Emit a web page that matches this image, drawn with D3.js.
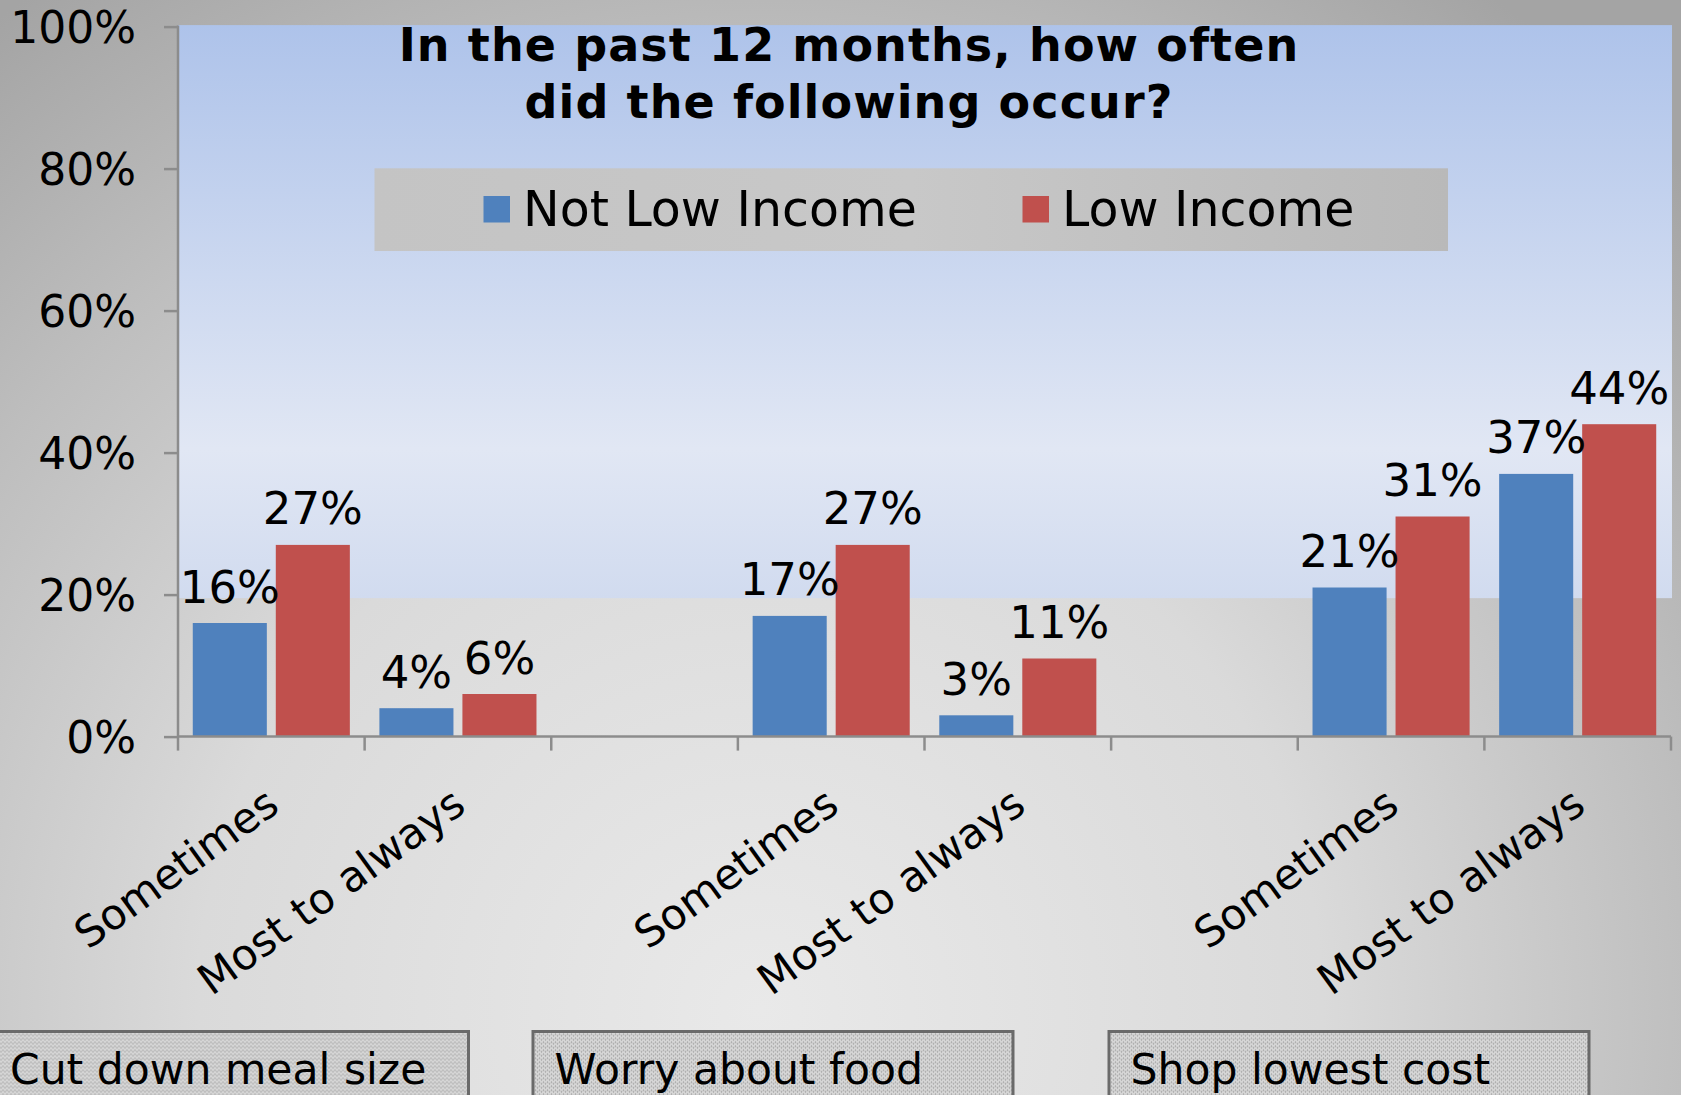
<!DOCTYPE html>
<html>
<head>
<meta charset="utf-8">
<script src="https://cdn.jsdelivr.net/npm/d3@7"></script>
<style>
  html, body { margin: 0; padding: 0; overflow: hidden; }
  svg { display: block; }
  text { font-family: "DejaVu Sans", Verdana, sans-serif; fill: #000; }
</style>
</head>
<body>
<svg id="chart" width="1681" height="1095"></svg>
<script>
// ---- data ----
const categories = ["Sometimes", "Most to always", "", "Sometimes", "Most to always", "", "Sometimes", "Most to always"];
const seriesNames = ["Not Low Income", "Low Income"];
const notLowIncome = [16, 4, null, 17, 3, null, 21, 37];
const lowIncome = [27, 6, null, 27, 11, null, 31, 44];
const groupLabels = ["Cut down meal size", "Worry about food", "Shop lowest cost"];
const yTicks = [0, 20, 40, 60, 80, 100];
const titleLines = ["In the past 12 months, how often", "did the following occur?"];

// ---- layout ----
const W = 1681, H = 1095;
const plot = { left: 178, right: 1671, top: 26.6, bottom: 736.6 };
const colors = { "Not Low Income": "#4f81bd", "Low Income": "#c0504d" };

const svg = d3.select("#chart");
const defs = svg.append("defs");

// page background radial gradient
const bg = defs.append("radialGradient").attr("id", "bgGrad")
  .attr("gradientUnits", "userSpaceOnUse")
  .attr("cx", 760).attr("cy", 1010).attr("r", 1250);
bg.append("stop").attr("offset", "0").attr("stop-color", "#e9e9e9");
bg.append("stop").attr("offset", "0.45").attr("stop-color", "#dadada");
bg.append("stop").attr("offset", "0.75").attr("stop-color", "#bebebe");
bg.append("stop").attr("offset", "1").attr("stop-color", "#a4a4a4");

// plot area blue gradient
const pg = defs.append("linearGradient").attr("id", "plotGrad")
  .attr("x1", 0).attr("y1", 0).attr("x2", 0).attr("y2", 1);
pg.append("stop").attr("offset", "0").attr("stop-color", "#aec3ea");
pg.append("stop").attr("offset", "0.74").attr("stop-color", "#e1e7f4");
pg.append("stop").attr("offset", "1").attr("stop-color", "#d1dbef");

// legend gradient
const lg = defs.append("linearGradient").attr("id", "legGrad")
  .attr("x1", 0).attr("y1", 0).attr("x2", 1).attr("y2", 0);
lg.append("stop").attr("offset", "0").attr("stop-color", "#c4c4c4");
lg.append("stop").attr("offset", "0.5").attr("stop-color", "#c8c8c8");
lg.append("stop").attr("offset", "1").attr("stop-color", "#b9b9b9");

// dithered pattern for group label boxes
const pat = defs.append("pattern").attr("id", "dither")
  .attr("patternUnits", "userSpaceOnUse").attr("width", 4).attr("height", 4);
pat.append("rect").attr("width", 4).attr("height", 4).attr("fill", "#d6d6d6");
pat.append("rect").attr("x", 0).attr("y", 0).attr("width", 1).attr("height", 1).attr("fill", "#9a9a9a");
pat.append("rect").attr("x", 2).attr("y", 2).attr("width", 1).attr("height", 1).attr("fill", "#9a9a9a");
pat.append("rect").attr("x", 0).attr("y", 3).attr("width", 4).attr("height", 1).attr("fill", "#c6c6c6");

svg.append("rect").attr("width", W).attr("height", H).attr("fill", "url(#bgGrad)");

// scales
const x = d3.scaleBand().domain(d3.range(categories.length)).range([plot.left, plot.right]);
const xs = d3.scaleBand().domain(seriesNames).range([0, x.bandwidth()])
  .paddingInner(0.108).paddingOuter(0.178);
const y = d3.scaleLinear().domain([0, 100]).range([plot.bottom, plot.top]);

// plot area upper blue part
svg.append("rect")
  .attr("x", plot.left).attr("y", y(100) - 1.5)
  .attr("width", 1672 - plot.left).attr("height", y(19.5) - y(100) + 1.5)
  .attr("fill", "url(#plotGrad)");

// title
svg.append("g").selectAll("text").data(titleLines).join("text")
  .attr("x", 849).attr("y", (d, i) => 60.7 + i * 57.6)
  .attr("text-anchor", "middle")
  .attr("font-size", 46).attr("font-weight", "bold")
  .attr("letter-spacing", 1.1)
  .text(d => d);

// legend
const leg = svg.append("g");
leg.append("rect").attr("x", 374.5).attr("y", 168.3).attr("width", 1073.5).attr("height", 82.7)
  .attr("fill", "url(#legGrad)");
const legX = [483.5, 1022.5];
seriesNames.forEach((s, i) => {
  leg.append("rect").attr("x", legX[i]).attr("y", 196).attr("width", 26.5).attr("height", 26.5)
    .attr("fill", colors[s]);
  leg.append("text").attr("x", legX[i] + 39.5).attr("y", 226)
    .attr("font-size", 49).text(s);
});

// bars
const series = [
  { name: seriesNames[0], values: notLowIncome },
  { name: seriesNames[1], values: lowIncome }
];
const barData = [];
series.forEach(s => s.values.forEach((v, i) => { if (v != null) barData.push({ s: s.name, i, v }); }));

svg.append("g").selectAll("rect").data(barData).join("rect")
  .attr("x", d => x(d.i) + xs(d.s))
  .attr("y", d => y(d.v))
  .attr("width", xs.bandwidth())
  .attr("height", d => y(0) - y(d.v))
  .attr("fill", d => colors[d.s]);

// data labels
svg.append("g").selectAll("text").data(barData).join("text")
  .attr("x", d => x(d.i) + xs(d.s) + xs.bandwidth() / 2)
  .attr("y", d => y(d.v) - 20.5)
  .attr("text-anchor", "middle")
  .attr("font-size", 45)
  .text(d => d.v + "%");

// y axis
const yAxis = svg.append("g").attr("transform", `translate(${plot.left},0)`)
  .call(d3.axisLeft(y).tickValues(yTicks).tickSize(14).tickPadding(28).tickFormat(d => d + "%"));
yAxis.select(".domain").attr("stroke", "#8c8c8c").attr("stroke-width", 2.5)
  .attr("d", `M0,${y(100) - 1}V${y(0)}`);
yAxis.selectAll(".tick line").attr("stroke", "#8c8c8c").attr("stroke-width", 2.5);
yAxis.selectAll(".tick text").attr("font-size", 44).attr("font-family", "DejaVu Sans")
  .attr("fill", "#000").attr("dy", "0.36em");

// x axis
const xAxisG = svg.append("g");
xAxisG.append("line").attr("x1", plot.left).attr("x2", plot.right)
  .attr("y1", y(0)).attr("y2", y(0)).attr("stroke", "#8c8c8c").attr("stroke-width", 2.5);
const boundaries = d3.range(categories.length + 1).map(i => i < categories.length ? x(i) : plot.right);
xAxisG.selectAll("line.tk").data(boundaries).join("line").attr("class", "tk")
  .attr("x1", d => d).attr("x2", d => d)
  .attr("y1", y(0)).attr("y2", y(0) + 14)
  .attr("stroke", "#8c8c8c").attr("stroke-width", 2.5);

xAxisG.selectAll("text").data(categories.map((c, i) => ({ c, i })).filter(d => d.c))
  .join("text")
  .attr("transform", d => `translate(${x(d.i) + x.bandwidth() / 2 + 10},${810}) rotate(-36)`)
  .attr("text-anchor", "end")
  .attr("font-size", 42.5)
  .text(d => d.c);

// group label boxes
const boxX = [-11.5, 533, 1109];
const gb = svg.append("g").selectAll("g").data(groupLabels).join("g")
  .attr("transform", (d, i) => `translate(${boxX[i]},1031.5)`);
gb.append("rect").attr("width", 480).attr("height", 80)
  .attr("fill", "url(#dither)").attr("stroke", "#6a6a6a").attr("stroke-width", 3);
gb.append("text").attr("x", 21.5).attr("y", 52).attr("font-size", 42.5).text(d => d);
</script>
</body>
</html>
